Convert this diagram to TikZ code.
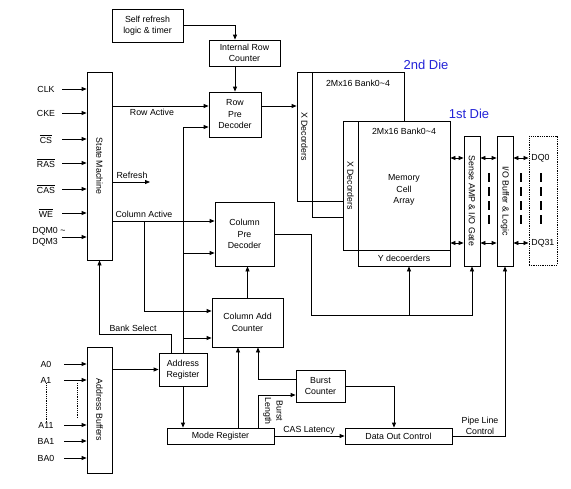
\documentclass[tikz,border=0pt]{standalone}
\usepackage{fontspec}
\setmainfont{Liberation Sans}
\usepackage{xcolor}
\usetikzlibrary{arrows.meta, positioning}

\definecolor{dieblue}{RGB}{35,35,215}
\newcommand{\ovl}[1]{$\overline{\mbox{#1}}$}

\begin{document}
\begin{tikzpicture}[x=1pt, y=-1pt, line width=0.8pt,
  >={Triangle[length=5pt,width=4pt]},
  blk/.style={draw, fill=white, inner sep=0pt, align=center,
              font=\fontsize{8.8}{11.5}\selectfont},
  lbl/.style={inner sep=0pt, align=center, font=\fontsize{8.8}{11.5}\selectfont},
  die/.style={inner sep=0pt, text=dieblue, font=\fontsize{13}{15}\selectfont},
  dashbar/.style={line width=1.8pt, dash pattern=on 9pt off 5pt},
  dotbar/.style={line width=1pt, dash pattern=on 1pt off 0.8pt}]
\useasboundingbox (0,0) rectangle (571,488);
% Control blocks
\node[blk, minimum width=71pt, minimum height=33pt] (selfref) at (147.5,25.5) {Self refresh\\logic \& timer};
\node[blk, minimum width=71pt, minimum height=26pt] (irc) at (244.5,53) {Internal Row\\Counter};
\node[blk, minimum width=52pt, minimum height=45pt] (rpd) at (235,114.5) {Row\\Pre\\Decoder};
\node[blk, minimum width=25pt, minimum height=188pt] (sm) at (99.5,166) {\rotatebox{-90}{State Machine}};
\node[blk, minimum width=59pt, minimum height=64pt] (cpd) at (244.5,234) {Column\\Pre\\Decoder};
\node[blk, minimum width=71pt, minimum height=49pt] (cac) at (247.5,322.5) {Column Add\\Counter};
\node[blk, minimum width=48pt, minimum height=33pt] (areg) at (183,369.5) {Address\\Register};
\node[blk, minimum width=25pt, minimum height=126pt] (abuf) at (99.5,410) {\rotatebox{-90}{Address Buffers}};
\node[blk, minimum width=107pt, minimum height=16pt] (mreg) at (220.5,436) {Mode Register};
\node[blk, minimum width=49pt, minimum height=32pt] (burst) at (320.5,386) {Burst\\Counter};
\node[blk, minimum width=107pt, minimum height=16pt] (doc) at (398.5,436) {Data Out Control};

% 2nd die (behind)
\node[blk, minimum width=15pt, minimum height=129pt] (xdec2) at (304.5,136.5) {\rotatebox{-90}{X Decorders}};
\node[blk, minimum width=92pt, minimum height=129pt] (bank2) at (358,136.5) {};
\node[blk, minimum width=92pt, minimum height=16pt] (ydec2) at (358,209) {};
\node[lbl] (bank2lbl) at (358,83) {2Mx16 Bank0\textasciitilde4};
\node[die] (die2) at (426,65) {2nd Die};

% 1st die
\node[blk, minimum width=15pt, minimum height=129pt] (xdec1) at (350.5,185.5) {\rotatebox{-90}{X Decorders}};
\node[blk, minimum width=92pt, minimum height=129pt] (bank1) at (404,185.5) {};
\node[blk, minimum width=92pt, minimum height=16pt] (ydec1) at (404,258) {Y decoerders};
\node[lbl] (bank1lbl) at (404,131) {2Mx16 Bank0\textasciitilde4};
\node[lbl] (mca) at (404,190) {Memory\\Cell\\Array};
\node[die] (die1) at (469,114) {1st Die};

% Data path
\node[blk, minimum width=16pt, minimum height=130pt] (sense) at (472,201) {\rotatebox{-90}{Sense AMP \& I/O Gate}};
\node[blk, minimum width=16pt, minimum height=130pt] (iobuf) at (505,201) {\rotatebox{-90}{I/O Buffer \& Logic}};
\node[draw, dotbar, inner sep=0pt, minimum width=28pt, minimum height=129pt] (dqbox) at (543,200.5) {};
\node[lbl, anchor=west] (dq0) at (531,158) {DQ0};
\node[lbl, anchor=west] (dq31) at (531,243) {DQ31};
\foreach \y in {158,243} {
  \draw[<->] (bank1.east |- 0,\y) -- (sense.west |- 0,\y);
  \draw[<->] (sense.east |- 0,\y) -- (iobuf.west |- 0,\y);
  \draw[<->] (iobuf.east |- 0,\y) -- (dqbox.west |- 0,\y);
}
\foreach \x in {489,521,541}
  \draw[dashbar] (\x,173) -- (\x,225);

% Command inputs
\foreach \y/\t [count=\i] in {89/CLK, 113/CKE, 139/\ovl{CS}, 163/\ovl{RAS}, 189/\ovl{CAS}, 213/\ovl{WE}} {
  \node[lbl] (cin\i) at (46,\y) {\t};
  \coordinate (cs\i) at (62,\y);
  \draw[->] (cs\i) -- (cs\i -| sm.west);
}
\node[lbl, align=left, anchor=west] (dqm) at (32,237) {DQM0 \textasciitilde\\DQM3};
\coordinate (dqms) at (62,237);
\draw[->] (dqms) -- (dqms -| sm.west);

% Address inputs
\foreach \y/\t [count=\i] in {364/A0, 380/A1, 425/A11, 441/BA1, 458/BA0} {
  \node[lbl] (ain\i) at (46,\y) {\t};
  \coordinate (as\i) at (64,\y);
  \draw[->] (as\i) -- (as\i -| abuf.west);
}
\draw[dotbar] (ain2.south) -- (ain3.north);
\draw[dotbar] (77,383) -- (77,418);

% Refresh path
\draw[->] (selfref.east) -| (irc.north -| rpd.north);
\draw[->] (irc.south -| rpd.north) -- (rpd.north);
\draw[->] (rpd.east |- 0,106) -- (xdec2.west |- 0,106);

% State machine outputs
\draw[->] (sm.east |- 0,106) -- (rpd.west |- 0,106);
\node[lbl] (ralbl) at (152,112) {Row Active};
\coordinate (refend) at (150,182);
\draw[->] (sm.east |- refend) -- (refend);
\node[lbl] (reflbl) at (132,175) {Refresh};
\draw[->] (sm.east |- 0,221) -- (cpd.west |- 0,221);
\node[lbl] (calbl) at (144,214) {Column Active};
\coordinate (cabr) at (144,221);
\draw[->] (cabr) |- (cac.west |- 0,311);

% Address register
\draw[->] (abuf.east |- areg.west) -- (areg.west);
\draw[->] (areg.north) |- (rpd.west |- 0,127);
\draw[->] (areg.north |- 0,253) -- (cpd.west |- 0,253);
\draw[->] (areg.north |- 0,338) -- (cac.west |- 0,338);
\draw[->] (areg.south) -- (areg.south |- mreg.north);
\draw[->] ([xshift=-12pt]areg.north) |- (sm.south |- 0,334) -- (sm.south);
\node[lbl] (bslbl) at (133,328) {Bank Select};

% Column path
\draw[->] (cac.north) -- (cac.north |- cpd.south);
\coordinate (cbus) at (311,315);
\draw[->] (cpd.east) -| (cbus) -| (sense.south);
\draw[->] (cbus -| 409,0) -- (ydec1.south -| 409,0);

% Mode register and burst
\draw[->] (mreg.north -| 238,0) -- (cac.south -| 238,0);
\draw[->] (burst.west |- 0,379) -| (cac.south -| 258,0);
\draw[->] (mreg.north -| 258,0) |- (burst.west |- 0,395);
\node[lbl, rotate=-90] (bllbl) at (273,411) {Burst\\Length};
\draw[->] (burst.east) -| (doc.north -| 394,0);
\draw[->] (mreg.east) -- (doc.west);
\node[lbl] (caslbl) at (309,430) {CAS Latency};
\draw[->] (doc.east) -| (iobuf.south);
\node[lbl] (pllbl) at (480,426) {Pipe Line\\Control};
\end{tikzpicture}
\end{document}
